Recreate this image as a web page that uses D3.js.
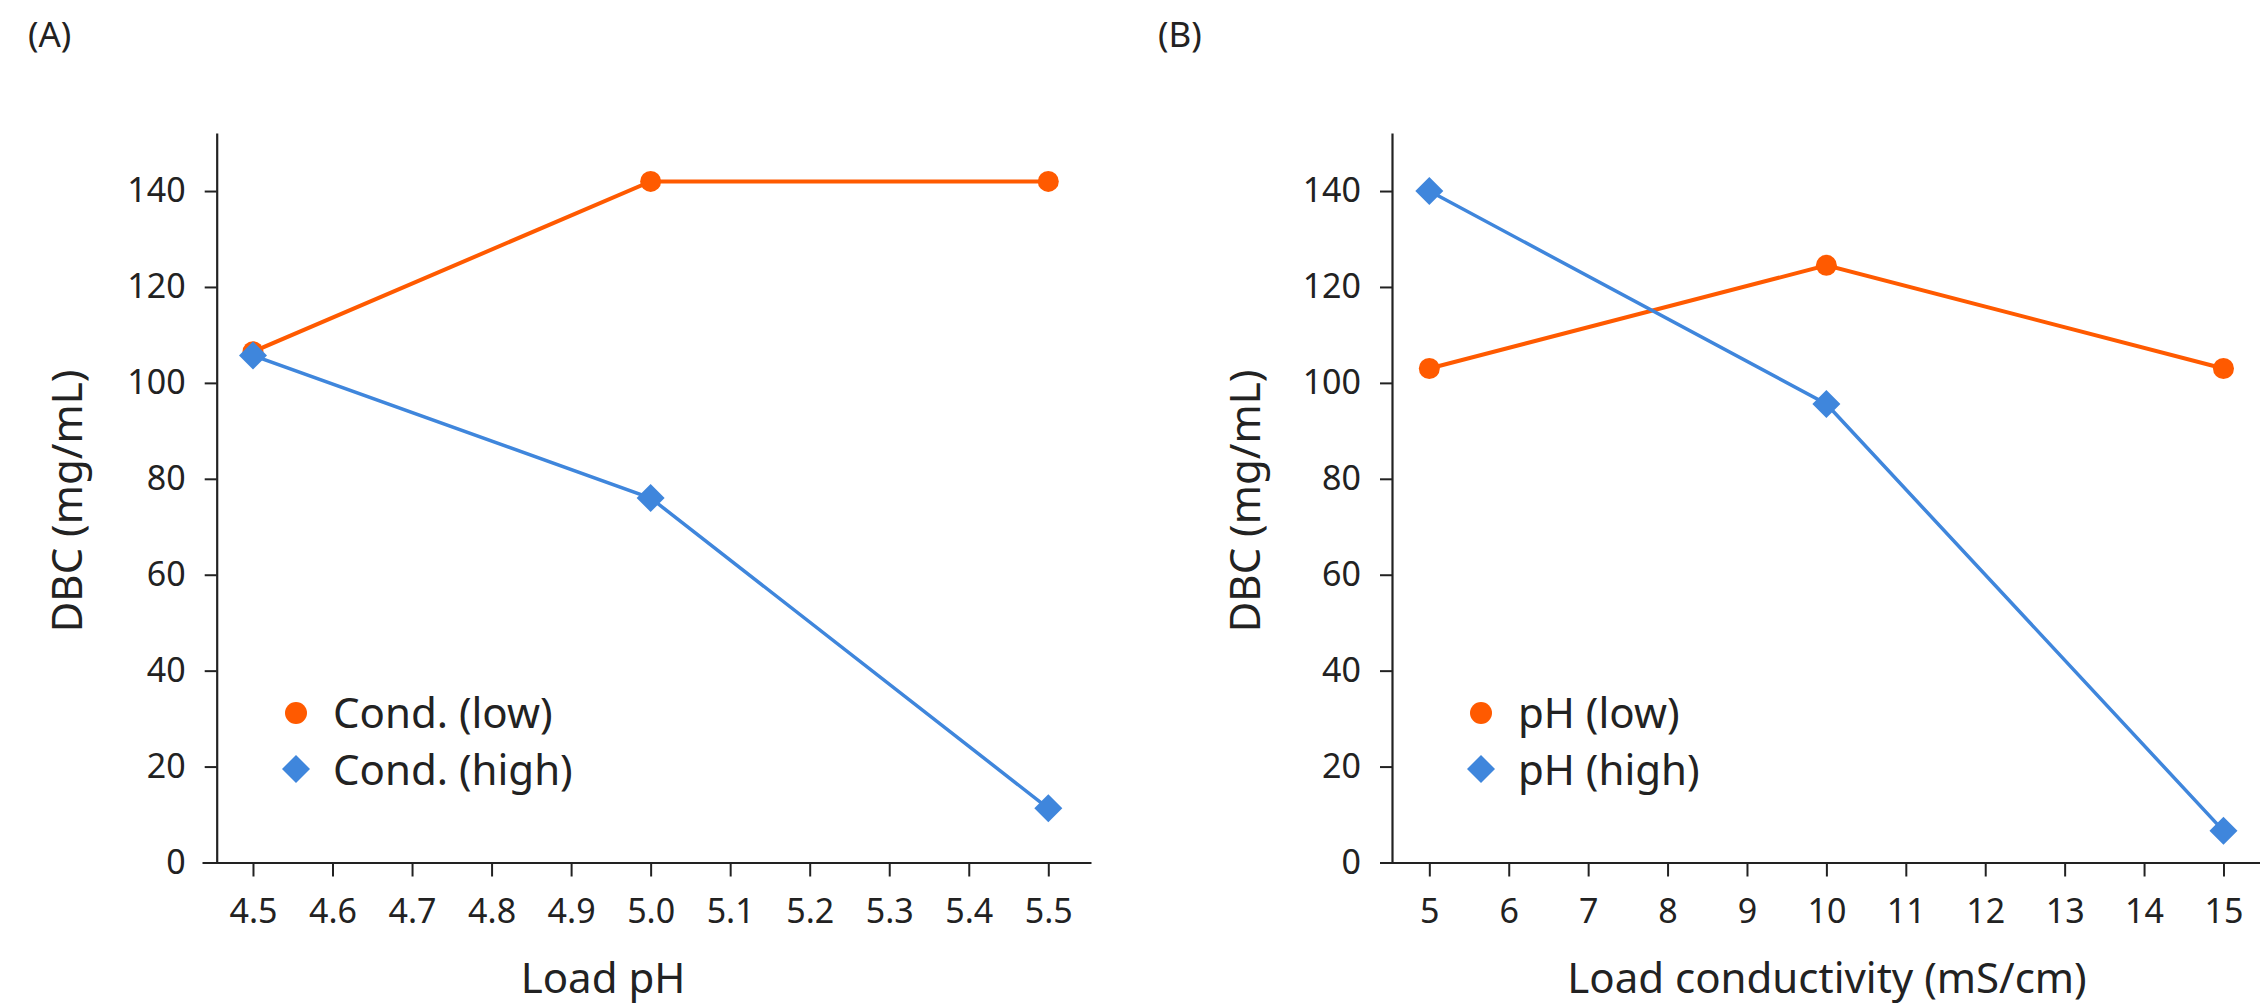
<!DOCTYPE html>
<html>
<head>
<meta charset="utf-8">
<script src="https://cdn.jsdelivr.net/npm/d3@7"></script>
<style>
  html, body { margin: 0; padding: 0; background: #fff; }
  svg { display: block; }
  text { font-family: "Noto Sans", "Open Sans", sans-serif; fill: #222; }
</style>
</head>
<body>
<svg id="chart" width="2260" height="1004"></svg>
<script>
// ---- Data ----
const phValues = [4.5, 5.0, 5.5];
const condLow = [106.5, 142, 142];
const condHigh = [105.7, 76, 11.3];

const condValues = [5, 10, 15];
const phLow = [103, 124.5, 103];
const phHigh = [140, 95.6, 6.6];

const yTicks = [0, 20, 40, 60, 80, 100, 120, 140];
const xTicksA = [4.5, 4.6, 4.7, 4.8, 4.9, 5.0, 5.1, 5.2, 5.3, 5.4, 5.5];
const xTicksB = [5, 6, 7, 8, 9, 10, 11, 12, 13, 14, 15];

const legendA = ["Cond. (low)", "Cond. (high)"];
const legendB = ["pH (low)", "pH (high)"];

const ORANGE = "#ff5a00";
const BLUE = "#3f86dc";
const AXIS = "#222";

const svg = d3.select("#chart");

function panel(cfg) {
  const g = svg.append("g");
  const x = d3.scaleLinear().domain(cfg.xDomain).range(cfg.xRange);
  const y = d3.scaleLinear().domain([0, 152.1]).range([862.5, 133]);

  const xa = g.append("g").attr("transform", `translate(0,${y(0)})`)
    .call(d3.axisBottom(x).tickValues(cfg.xTicks).tickFormat(cfg.xFormat)
      .tickSizeInner(14).tickSizeOuter(0).tickPadding(22));
  const ya = g.append("g").attr("transform", `translate(${cfg.yAxisX},0)`)
    .call(d3.axisLeft(y).tickValues(yTicks).tickSizeInner(12).tickSizeOuter(0).tickPadding(19));
  [xa, ya].forEach(a => {
    a.select(".domain").attr("stroke", AXIS).attr("stroke-width", 2.2);
    a.selectAll(".tick line").attr("stroke", AXIS).attr("stroke-width", 2);
    a.selectAll(".tick text").style("font-size", "34px").attr("fill", "#222")
      .style("font-family", '"Noto Sans", "Open Sans", sans-serif');
  });

  const line = d3.line().x(d => x(d[0])).y(d => y(d[1]));
  const low = cfg.xs.map((v, i) => [v, cfg.low[i]]);
  const high = cfg.xs.map((v, i) => [v, cfg.high[i]]);

  g.append("path").datum(low).attr("d", line)
    .attr("fill", "none").attr("stroke", ORANGE).attr("stroke-width", 4);
  g.selectAll(".c").data(low).enter().append("circle")
    .attr("cx", d => x(d[0])).attr("cy", d => y(d[1])).attr("r", 10.5).attr("fill", ORANGE);

  g.append("path").datum(high).attr("d", line)
    .attr("fill", "none").attr("stroke", BLUE).attr("stroke-width", 3.5);
  const diamond = d3.symbol().type(d3.symbolSquare).size(392);
  g.selectAll(".d").data(high).enter().append("path")
    .attr("d", diamond)
    .attr("transform", d => `translate(${x(d[0])},${y(d[1])}) rotate(45)`)
    .attr("fill", BLUE);

  // Legend
  g.append("circle").attr("cx", cfg.legX).attr("cy", 713).attr("r", 11).attr("fill", ORANGE);
  g.append("path").attr("d", diamond)
    .attr("transform", `translate(${cfg.legX},769) rotate(45)`).attr("fill", BLUE);
  g.append("text").attr("x", cfg.legX + 37).attr("y", 728).style("font-size", "42px").text(cfg.legend[0]);
  g.append("text").attr("x", cfg.legX + 37).attr("y", 785).style("font-size", "42px").text(cfg.legend[1]);

  // Axis titles
  g.append("text").attr("x", cfg.xTitleX).attr("y", 993).attr("text-anchor", "middle")
    .style("font-size", "42px").text(cfg.xTitle);
  g.append("text").attr("transform", `translate(${cfg.yTitleX},501) rotate(-90)`)
    .attr("text-anchor", "middle").style("font-size", "42px").text("DBC (mg/mL)");

  // Panel label
  g.append("text").attr("x", cfg.labelX).attr("y", 47).style("font-size", "35px").text(cfg.label);
}

panel({
  xDomain: [4.4359, 5.5537], xRange: [202, 1091], yAxisX: 216.7,
  xTicks: xTicksA, xFormat: d3.format(".1f"),
  xs: phValues, low: condLow, high: condHigh,
  legend: legendA, legX: 296,
  xTitle: "Load pH", xTitleX: 603, yTitleX: 82,
  label: "(A)", labelX: 28
});

panel({
  xDomain: [4.379, 15.46], xRange: [1380, 2260], yAxisX: 1392,
  xTicks: xTicksB, xFormat: d3.format("d"),
  xs: condValues, low: phLow, high: phHigh,
  legend: legendB, legX: 1481,
  xTitle: "Load conductivity (mS/cm)", xTitleX: 1827, yTitleX: 1260,
  label: "(B)", labelX: 1158
});
</script>
</body>
</html>
